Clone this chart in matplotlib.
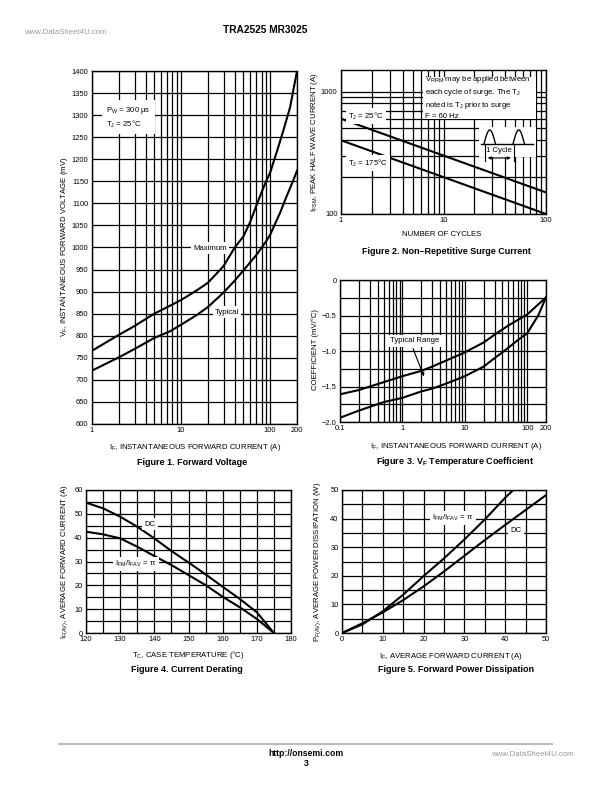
import numpy as np
import matplotlib
matplotlib.use("Agg")
import matplotlib.pyplot as plt
from matplotlib.patches import Rectangle, FancyArrowPatch
from matplotlib.lines import Line2D

plt.rcParams['font.family'] = ['Liberation Sans', 'DejaVu Sans']
plt.rcParams['mathtext.fontset'] = 'custom'
plt.rcParams['mathtext.rm'] = 'Liberation Sans'
plt.rcParams['mathtext.it'] = 'Liberation Sans'
plt.rcParams['mathtext.bf'] = 'Liberation Sans:bold'

# Figure 1 - forward voltage (mV vs A)
fwd_max_i = [1, 2, 3, 5, 7.5, 10, 15, 20, 30, 40, 50, 60, 70, 80, 90, 100, 120, 140, 167, 200]
fwd_max_v = [766, 802, 822, 850, 868, 881, 903, 920, 958, 1000, 1025, 1059, 1095, 1125, 1150, 1170,
             1220, 1264, 1317, 1400]
fwd_typ_i = [1, 2, 3, 5, 7.5, 10, 15, 20, 30, 40, 50, 70, 90, 100, 130, 150, 180, 200]
fwd_typ_v = [721, 751, 770, 795, 810, 825, 847, 865, 898, 925, 948, 983, 1014, 1029, 1080, 1112,
             1150, 1174]

# Figure 2 - surge current
cycles = [1, 10, 100]
surge_25 = [600, 300, 150]
surge_175 = [400, 200, 100]

# Figure 3 - VF temperature coefficient
tc_i_up = [0.1, 0.2, 1, 2, 3, 10, 20, 30, 50, 100, 200]
tc_up = [-1.61, -1.55, -1.355, -1.28, -1.22, -1.02, -0.88, -0.77, -0.64, -0.485, -0.245]
tc_i_lo = [0.1, 0.2, 0.5, 1, 2, 3, 5, 10, 20, 30, 40, 70, 100, 150, 200]
tc_lo = [-1.94, -1.84, -1.72, -1.66, -1.57, -1.53, -1.46, -1.355, -1.22, -1.10, -1.02, -0.85,
         -0.75, -0.5, -0.245]

# Figure 4 - current derating
case_temp = [120, 125, 130, 135, 140, 145, 150, 155, 160, 165, 170, 175]
derate_dc = [54.7, 52.3, 48.8, 44.6, 39.7, 34.4, 29.6, 24.6, 19.4, 14.3, 8.7, 0]
derate_pi = [42.5, 41.4, 39.7, 36.2, 32.3, 28.5, 24.3, 20.1, 15.2, 10.8, 5.9, 0]

# Figure 5 - forward power dissipation
pd_i_pi = [0, 5, 10, 15, 20, 25, 30, 35, 40, 42]
pd_pi = [0, 3.0, 7.6, 13.4, 19.9, 26.1, 32.7, 39.7, 47.3, 50]
pd_i_dc = [0, 5, 10, 15, 20, 25, 30, 35, 40, 45, 50]
pd_dc = [0, 3.4, 7.2, 11.5, 16.3, 21.5, 27.0, 32.5, 37.8, 43.0, 48.2]

W, H = 612, 792
fig = plt.figure(figsize=(W / 100, H / 100), dpi=100)

FS_TICK = 5.4
FS_LAB = 5.6
FS_ANN = 5.6
FS_CAP = 6.5
LW = 1.5
GW = 0.9


def add_ax(l, t, r, b):
    ax = fig.add_axes([l / W, 1 - b / H, (r - l) / W, (b - t) / H])
    for s in ax.spines.values():
        s.set_linewidth(1.0)
    ax.tick_params(which='both', length=0, labelsize=FS_TICK, pad=2.5)
    return ax


def ftext(x, y, s, **kw):
    kw.setdefault('fontsize', FS_LAB)
    kw.setdefault('ha', 'center')
    kw.setdefault('va', 'center')
    return fig.text(x / W, 1 - y / H, s, **kw)


def grid(ax):
    ax.grid(True, which='both', color='black', lw=GW)
    ax.set_axisbelow(True)


def log_minor(lo, hi):
    out = []
    d = 10.0 ** np.floor(np.log10(lo))
    while d < hi:
        for k in range(1, 10):
            v = k * d
            if lo <= v <= hi:
                out.append(v)
        d *= 10
    return out


white = dict(facecolor='white', edgecolor='none', pad=1.5)

# header / footer
ftext(65, 32, 'www.DataSheet4U.com', fontsize=5.6, color='#999999')
ftext(265, 30, 'TRA2525 MR3025', fontsize=7.3, fontweight='bold')
fig.add_artist(Line2D([59 / W, 552 / W], [1 - 744 / H] * 2, color='#bbbbbb', lw=1.5))
ftext(306, 753, 'http://onsemi.com', fontsize=6.2, fontweight='bold')
ftext(306, 763, '3', fontsize=6.2, fontweight='bold')
ftext(532, 755, 'www.DataSheet4U.com', fontsize=5.6, color='#999999')

# ---------- Figure 1
ax1 = add_ax(92, 71, 297, 424)
ax1.set_xscale('log')
ax1.set_xlim(1, 200)
ax1.set_ylim(600, 1400)
ax1.set_xticks(log_minor(1, 200), minor=True)
ax1.set_xticks([1, 10, 100, 200])
ax1.set_xticklabels(['1', '10', '100', '200'])
ax1.xaxis.set_minor_formatter(plt.NullFormatter())
ax1.set_yticks(np.arange(600, 1401, 50))
grid(ax1)
ax1.plot(fwd_max_i, fwd_max_v, color='black', lw=LW)
ax1.plot(fwd_typ_i, fwd_typ_v, color='black', lw=LW)
ftext(210, 248, 'Maximum', fontsize=FS_ANN, bbox=white)
ftext(227, 312, 'Typical', fontsize=FS_ANN, bbox=white)
ftext(106, 117.5, '$\\mathregular{P_W}$ = 300 μs\n$\\mathregular{T_J}$ = 25°C', ha='left',
      fontsize=FS_ANN, linespacing=1.3, bbox=dict(facecolor='white', edgecolor='none', pad=3))
ftext(65, 247, '$\\mathregular{V_F}$, INSTANTANEOUS FORWARD VOLTAGE (mV)', rotation=90)
ftext(195, 447, '$\\mathregular{I_F}$, INSTANTANEOUS FORWARD CURRENT (A)')
ftext(192, 462, 'Figure 1. Forward Voltage', fontsize=FS_CAP, fontweight='bold')

# ---------- Figure 2
ax2 = add_ax(341, 70, 546, 214)
ax2.set_xscale('log')
ax2.set_yscale('log')
ax2.set_xlim(1, 100)
ax2.set_ylim(100, 1500)
ax2.set_xticks(log_minor(1, 100), minor=True)
ax2.set_xticks([1, 10, 100])
ax2.set_xticklabels(['1', '10', '100'])
ax2.xaxis.set_minor_formatter(plt.NullFormatter())
ax2.set_yticks(log_minor(100, 1000), minor=True)
ax2.set_yticks([100, 1000])
ax2.set_yticklabels(['100', '1000'])
ax2.yaxis.set_minor_formatter(plt.NullFormatter())
grid(ax2)
ax2.plot(cycles, surge_25, color='black', lw=LW)
ax2.plot(cycles, surge_175, color='black', lw=LW)
ftext(348, 116, '$\\mathregular{T_J}$ = 25°C', ha='left', fontsize=FS_ANN, bbox=white)
ftext(348, 163, '$\\mathregular{T_J}$ = 175°C', ha='left', fontsize=FS_ANN, bbox=white)

tf = fig.transFigure


def fx(x):
    return np.asarray(x, dtype=float) / W


def fy(y):
    return 1 - np.asarray(y, dtype=float) / H


# note box and waveform sketch, drawn inside ax2 above its grid
ax2.add_patch(Rectangle((fx(423), fy(118.5)), 113 / W, 41 / H, transform=tf,
                        facecolor='white', edgecolor='none', zorder=5, clip_on=False))
ax2.text(fx(425), fy(97), '$\\mathregular{V_{RRM}}$ may be applied between\neach cycle of surge. The $\\mathregular{T_J}$\n'
         'noted is $\\mathregular{T_J}$ prior to surge\nF = 60 Hz', transform=tf, ha='left', va='center',
         fontsize=FS_ANN, linespacing=1.3, zorder=6)
ax2.add_patch(Rectangle((fx(479), fy(157)), 57 / W, 30 / H, transform=tf,
                        facecolor='white', edgecolor='none', zorder=5, clip_on=False))
ph = np.linspace(0, np.pi, 40)
for x0 in (484, 513):
    ax2.add_line(Line2D(fx(x0 + 11.5 * ph / np.pi), fy(144 - 14 * np.sin(ph)), transform=tf,
                        color='black', lw=1.0, zorder=6, clip_on=False))
ax2.add_line(Line2D(fx([481, 533]), fy([144, 144]), transform=tf, color='black', lw=1.0, zorder=6,
                    clip_on=False))
for xv in (484.5, 514):
    ax2.add_line(Line2D(fx([xv, xv]), fy([145, 161]), transform=tf, color='black', lw=0.8, zorder=6,
                        clip_on=False))
ax2.text(fx(499), fy(151), '1 Cycle', transform=tf, ha='center', va='center', fontsize=FS_ANN, zorder=7)
ax2.add_patch(FancyArrowPatch((fx(485), fy(158)), (fx(513.5), fy(158)), transform=tf,
                              arrowstyle='<|-|>', mutation_scale=4, lw=0.8, color='black', zorder=7))
ftext(315, 142, '$\\mathregular{I_{FSM}}$, PEAK HALF WAVE CURRENT (A)', rotation=90)
ftext(442, 235, 'NUMBER OF CYCLES')
ftext(446, 252, 'Figure 2. Non\u2013Repetitive Surge Current', fontsize=FS_CAP, fontweight='bold')

# ---------- Figure 3
ax3 = add_ax(340, 280, 546, 422)
ax3.set_xscale('log')
ax3.set_xlim(0.1, 200)
ax3.set_ylim(-2.0, 0)
ax3.set_xticks(log_minor(0.1, 200), minor=True)
ax3.set_xticks([0.1, 1, 10, 100, 200])
ax3.set_xticklabels(['0.1', '1', '10', '100', '200'])
ax3.xaxis.set_minor_formatter(plt.NullFormatter())
ax3.set_yticks(np.arange(-2.0, 0.01, 0.25), minor=True)
ax3.set_yticks([-2.0, -1.5, -1.0, -0.5, 0])
ax3.set_yticklabels(['\u22122.0', '\u22121.5', '\u22121.0', '\u22120.5', '0'])
grid(ax3)
ax3.plot(tc_i_up, tc_up, color='black', lw=LW)
ax3.plot(tc_i_lo, tc_lo, color='black', lw=LW)
ftext(415, 341, 'Typical Range', fontsize=FS_ANN, bbox=white)
fig.add_artist(FancyArrowPatch((fx(412), fy(346)), (fx(425), fy(379)), transform=tf,
                               arrowstyle='-|>', mutation_scale=5, lw=0.8, color='black'))
ftext(315, 350, 'COEFFICIENT (mV/°C)', rotation=90)
ftext(456, 446, '$\\mathregular{I_F}$, INSTANTANEOUS FORWARD CURRENT (A)')
ftext(455, 461, 'Figure 3. V$_{\\mathbf{F}}$ Temperature Coefficient', fontsize=FS_CAP, fontweight='bold')

# ---------- Figure 4
ax4 = add_ax(86, 490, 291, 633)
ax4.set_xlim(120, 180)
ax4.set_ylim(0, 60)
ax4.set_xticks(np.arange(120, 181, 5), minor=True)
ax4.set_xticks(np.arange(120, 181, 10))
ax4.set_yticks(np.arange(0, 61, 5), minor=True)
ax4.set_yticks(np.arange(0, 61, 10))
grid(ax4)
ax4.plot(case_temp, derate_dc, color='black', lw=LW)
ax4.plot(case_temp, derate_pi, color='black', lw=LW)
ftext(150, 524, 'DC', fontsize=FS_ANN, bbox=white)
ftext(136, 564, '$\\mathregular{I_{FM}/I_{FAV}}$ = π', fontsize=FS_ANN, bbox=white)
ftext(65, 562, '$\\mathregular{I_{F(AV)}}$, AVERAGE FORWARD CURRENT (A)', rotation=90)
ftext(188, 655, '$\\mathregular{T_C}$, CASE TEMPERATURE (°C)')
ftext(187, 669, 'Figure 4. Current Derating', fontsize=FS_CAP, fontweight='bold')

# ---------- Figure 5
ax5 = add_ax(342, 490, 546, 633)
ax5.set_xlim(0, 50)
ax5.set_ylim(0, 50)
ax5.set_xticks(np.arange(0, 51, 5), minor=True)
ax5.set_xticks(np.arange(0, 51, 10))
ax5.set_yticks(np.arange(0, 51, 5), minor=True)
ax5.set_yticks(np.arange(0, 51, 10))
grid(ax5)
ax5.plot(pd_i_pi, pd_pi, color='black', lw=LW)
ax5.plot(pd_i_dc, pd_dc, color='black', lw=LW)
ftext(453, 518, '$\\mathregular{I_{FM}/I_{FAV}}$ = π', fontsize=FS_ANN, bbox=white)
ftext(516, 531, 'DC', fontsize=FS_ANN, bbox=white)
ftext(318, 562, '$\\mathregular{P_{F(AV)}}$, AVERAGE POWER DISSIPATION (W)', rotation=90)
ftext(451, 656, '$\\mathregular{I_F}$, AVERAGE FORWARD CURRENT (A)')
ftext(456, 669, 'Figure 5. Forward Power Dissipation', fontsize=FS_CAP, fontweight='bold')

fig.savefig('out.png', dpi=100)
